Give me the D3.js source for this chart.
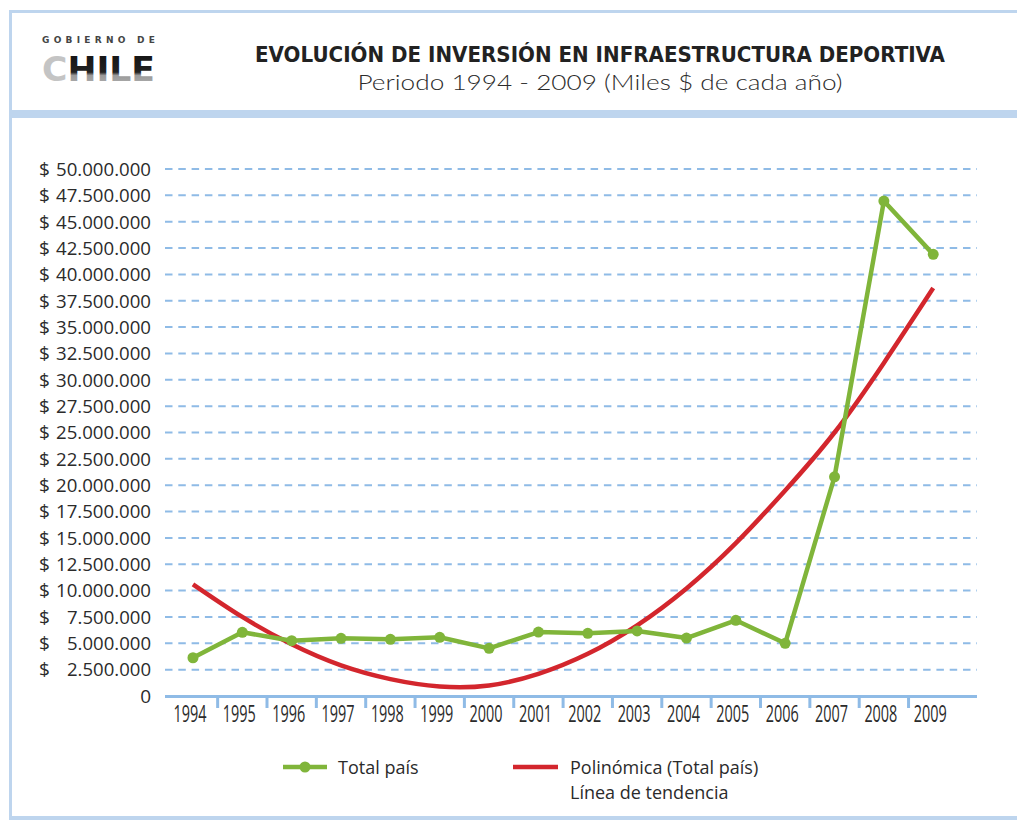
<!DOCTYPE html>
<html>
<head>
<meta charset="utf-8">
<script src="https://cdn.jsdelivr.net/npm/d3@7"></script>
<style>
  body { margin: 0; background: #fff; }
  svg { display: block; }
  text { font-family: "Open Sans", "DejaVu Sans", sans-serif; fill: #2b2b2b; }
</style>
</head>
<body>
<div id="chart"></div>
<script>
'use strict';

// Años del eje X
const years = ['1994', '1995', '1996', '1997', '1998', '1999', '2000', '2001',
               '2002', '2003', '2004', '2005', '2006', '2007', '2008', '2009'];

// Inversión total país (miles $ de cada año)
const totalPais = [3630000, 6040000, 5250000, 5470000, 5380000, 5570000, 4520000, 6070000,
                   5950000, 6170000, 5500000, 7180000, 5000000, 20800000, 46960000, 41900000];

// Línea de tendencia polinómica
const tendencia = [10600000, 7500000, 4900000, 2900000, 1600000, 900000, 1000000, 2100000,
                   4000000, 6700000, 10200000, 14500000, 19500000, 25000000, 31600000, 38700000];

// Marcas del eje Y
const yTicks = [0, 2500000, 5000000, 7500000, 10000000, 12500000, 15000000, 17500000,
                20000000, 22500000, 25000000, 27500000, 30000000, 32500000, 35000000,
                37500000, 40000000, 42500000, 45000000, 47500000, 50000000];

const WIDTH = 1017;
const HEIGHT = 820;
const FRAME = '#bed5ee';
const GRID = '#8fbbe6';
const GREEN = '#80b53a';
const RED = '#d3262d';

const locale = d3.formatLocale({ decimal: ',', thousands: '.', grouping: [3], currency: ['$', ''] });
const fmt = locale.format(',');

const svg = d3.select('#chart').append('svg')
    .attr('width', WIDTH)
    .attr('height', HEIGHT);

// marco
svg.append('rect').attr('x', 9).attr('y', 10).attr('width', WIDTH - 9).attr('height', 3).attr('fill', FRAME);
svg.append('rect').attr('x', 9).attr('y', 10).attr('width', 3).attr('height', 809).attr('fill', FRAME);
svg.append('rect').attr('x', 9).attr('y', 110).attr('width', WIDTH - 9).attr('height', 8).attr('fill', FRAME);
svg.append('rect').attr('x', 9).attr('y', 816).attr('width', WIDTH - 9).attr('height', 4).attr('fill', FRAME);

// logo
const defs = svg.append('defs');
const grad = defs.append('linearGradient').attr('id', 'logoGrad')
    .attr('x1', 0).attr('y1', 0).attr('x2', 0).attr('y2', 1);
grad.append('stop').attr('offset', '0%').attr('stop-color', '#111');
grad.append('stop').attr('offset', '58%').attr('stop-color', '#222');
grad.append('stop').attr('offset', '66%').attr('stop-color', '#9a9a9a');
grad.append('stop').attr('offset', '100%').attr('stop-color', '#b5b5b5');

svg.append('text')
    .attr('x', 42).attr('y', 43)
    .attr('textLength', 113).attr('lengthAdjust', 'spacing')
    .style('font-family', '"DejaVu Sans", sans-serif')
    .style('font-size', '9px').style('font-weight', 'bold').style('fill', '#444')
    .text('GOBIERNO DE');

const logo = svg.append('text')
    .attr('x', 42).attr('y', 81)
    .attr('textLength', 113).attr('lengthAdjust', 'spacingAndGlyphs')
    .style('font-family', '"DejaVu Sans", sans-serif')
    .style('font-size', '34px').style('font-weight', 'bold');
logo.append('tspan').style('fill', '#c4c4c4').text('C');
logo.append('tspan').style('fill', 'url(#logoGrad)').text('HILE');

// títulos
svg.append('text')
    .attr('x', 600).attr('y', 62)
    .attr('text-anchor', 'middle')
    .attr('textLength', 690).attr('lengthAdjust', 'spacingAndGlyphs')
    .style('font-family', '"DejaVu Sans", sans-serif')
    .style('font-size', '21px').style('font-weight', 'bold').style('fill', '#222')
    .text('EVOLUCIÓN DE INVERSIÓN EN INFRAESTRUCTURA DEPORTIVA');

svg.append('text')
    .attr('x', 600).attr('y', 90)
    .attr('text-anchor', 'middle')
    .attr('textLength', 485).attr('lengthAdjust', 'spacingAndGlyphs')
    .style('font-family', 'Lato, "Open Sans", sans-serif').style('font-weight', 300)
    .style('font-size', '22px')
    .text('Periodo 1994 - 2009 (Miles $ de cada año)');

// escalas
const x = d3.scaleBand().domain(years).range([168.3, 957.9]);
const y = d3.scaleLinear().domain([0, 50000000]).range([696, 169]);
const plotLeft = 165;
const plotRight = 977;

// grilla
svg.append('g')
    .selectAll('line')
    .data(yTicks.filter(d => d > 0))
    .join('line')
    .attr('x1', plotLeft).attr('x2', plotRight)
    .attr('y1', d => y(d)).attr('y2', d => y(d))
    .attr('stroke', GRID).attr('stroke-width', 2)
    .attr('stroke-dasharray', '7.5,5.8');

// etiquetas eje Y
const yLab = svg.append('g').selectAll('g').data(yTicks).join('g')
    .attr('transform', d => 'translate(0,' + y(d) + ')');
yLab.filter(d => d > 0).append('text')
    .attr('x', 39).attr('dy', '0.36em')
    .style('font-size', '19px')
    .text('$');
yLab.append('text')
    .attr('x', 151).attr('dy', '0.36em')
    .attr('text-anchor', 'end')
    .attr('textLength', d => d === 0 ? null : (d >= 10000000 ? 95 : 84))
    .attr('lengthAdjust', 'spacingAndGlyphs')
    .style('font-size', '19px')
    .text(d => d === 0 ? '0' : fmt(d));

// eje X
svg.append('line')
    .attr('x1', plotLeft).attr('x2', plotRight)
    .attr('y1', 696.5).attr('y2', 696.5)
    .attr('stroke', GRID).attr('stroke-width', 3);

svg.append('g').selectAll('line')
    .data(years.slice(1))
    .join('line')
    .attr('x1', d => x(d)).attr('x2', d => x(d))
    .attr('y1', 695).attr('y2', 708)
    .attr('stroke', GRID).attr('stroke-width', 3);

svg.append('g').selectAll('text')
    .data(years)
    .join('text')
    .attr('x', d => x(d) + x.bandwidth() / 2 - 3)
    .attr('y', 722)
    .attr('text-anchor', 'middle')
    .attr('textLength', 33).attr('lengthAdjust', 'spacingAndGlyphs')
    .style('font-size', '23px')
    .text(d => d);

// línea de tendencia
const trendLine = d3.line()
    .x((d, i) => x(years[i]) + x.bandwidth() / 2)
    .y(d => y(d))
    .curve(d3.curveNatural);

svg.append('path')
    .datum(tendencia)
    .attr('d', trendLine)
    .attr('fill', 'none')
    .attr('stroke', RED).attr('stroke-width', 4.5);

// serie total país
const totalLine = d3.line()
    .x((d, i) => x(years[i]) + x.bandwidth() / 2)
    .y(d => y(d));

svg.append('path')
    .datum(totalPais)
    .attr('d', totalLine)
    .attr('fill', 'none')
    .attr('stroke', GREEN).attr('stroke-width', 4.5)
    .attr('stroke-linejoin', 'round');

svg.append('g').selectAll('circle')
    .data(totalPais)
    .join('circle')
    .attr('cx', (d, i) => x(years[i]) + x.bandwidth() / 2)
    .attr('cy', d => y(d))
    .attr('r', 5.5)
    .attr('fill', GREEN);

// leyenda
const legend = svg.append('g');
legend.append('line')
    .attr('x1', 283).attr('x2', 327).attr('y1', 767).attr('y2', 767)
    .attr('stroke', GREEN).attr('stroke-width', 4.5);
legend.append('circle').attr('cx', 305).attr('cy', 767).attr('r', 5.5).attr('fill', GREEN);
legend.append('text')
    .attr('x', 338).attr('y', 774)
    .style('font-size', '18px')
    .text('Total país');

legend.append('line')
    .attr('x1', 513).attr('x2', 558).attr('y1', 767).attr('y2', 767)
    .attr('stroke', RED).attr('stroke-width', 4.5);
legend.append('text')
    .attr('x', 570).attr('y', 774)
    .style('font-size', '18px')
    .text('Polinómica (Total país)');
legend.append('text')
    .attr('x', 570).attr('y', 799)
    .style('font-size', '18px')
    .text('Línea de tendencia');
</script>
</body>
</html>
